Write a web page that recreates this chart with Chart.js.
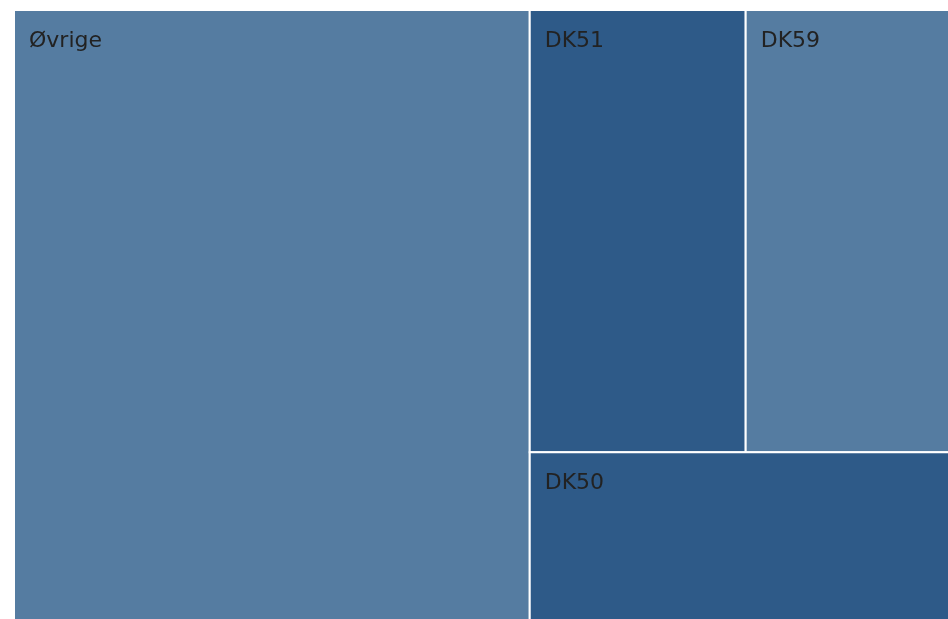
<!DOCTYPE html>
<html>
<head>
<meta charset="utf-8">
<title>Treemap</title>
<script src="https://cdn.jsdelivr.net/npm/chart.js@4/dist/chart.umd.min.js"></script>
<style>
  html, body { margin: 0; padding: 0; background: #fff; overflow: hidden; }
  #wrap { position: relative; width: 950px; height: 621px; }
</style>
</head>
<body>
<div id="wrap"><canvas id="treemap"></canvas></div>
<script>
// regions and their weights, largest first
const labels = ['Øvrige', 'DK51', 'DK59', 'DK50'];
const values = [55.1, 16.7, 15.8, 12.4];
const shades = ['#557ca1', '#2e5a88', '#557ca1', '#2e5a88'];

// squarified layout (golden ratio), same idea as d3.treemapSquarify
function squarify(vals, x0, y0, x1, y1) {
  const phi = (1 + Math.sqrt(5)) / 2;
  const out = [];
  let value = vals.reduce((a, b) => a + b, 0);
  let i0 = 0;
  const n = vals.length;
  while (i0 < n) {
    const dx = x1 - x0, dy = y1 - y0;
    let i1 = i0;
    let sum = vals[i1++];
    let minV = sum, maxV = sum;
    const alpha = Math.max(dy / dx, dx / dy) / (value * phi);
    let beta = sum * sum * alpha;
    let minRatio = Math.max(maxV / beta, beta / minV);
    for (; i1 < n; ++i1) {
      const v = vals[i1];
      sum += v;
      if (v < minV) minV = v;
      if (v > maxV) maxV = v;
      beta = sum * sum * alpha;
      const r = Math.max(maxV / beta, beta / minV);
      if (r > minRatio) { sum -= v; break; }
      minRatio = r;
    }
    if (dx < dy) {
      // row across the top
      const h = dy * sum / value;
      let cx = x0;
      for (let i = i0; i < i1; i++) {
        const w = dx * vals[i] / sum;
        out[i] = { x0: cx, y0: y0, x1: cx + w, y1: y0 + h };
        cx += w;
      }
      y0 += h;
    } else {
      // column down the left side
      const w = dx * sum / value;
      let cy = y0;
      for (let i = i0; i < i1; i++) {
        const h = dy * vals[i] / sum;
        out[i] = { x0: x0, y0: cy, x1: x0 + w, y1: cy + h };
        cy += h;
      }
      x0 += w;
    }
    value -= sum;
    i0 = i1;
  }
  return out;
}

const treemapCells = {
  id: 'treemapCells',
  afterDatasetsDraw(chart) {
    const { ctx, chartArea, scales } = chart;
    const W = chartArea.right - chartArea.left;
    const H = chartArea.bottom - chartArea.top;
    // lay out in pixel proportions, then map back to the 0..1 scales
    const cells = squarify(values, 0, 0, W, H).map(c => ({
      x0: scales.x.getPixelForValue(c.x0 / W),
      x1: scales.x.getPixelForValue(c.x1 / W),
      y0: scales.y.getPixelForValue(c.y0 / H),
      y1: scales.y.getPixelForValue(c.y1 / H)
    }));

    ctx.save();
    cells.forEach((c, i) => {
      ctx.fillStyle = shades[i];
      ctx.fillRect(c.x0, c.y0, c.x1 - c.x0, c.y1 - c.y0);
      ctx.strokeStyle = '#ffffff';
      ctx.lineWidth = 2;
      ctx.strokeRect(c.x0, c.y0, c.x1 - c.x0, c.y1 - c.y0);
    });
    ctx.fillStyle = '#222222';
    ctx.font = '22px "DejaVu Sans", Verdana, sans-serif';
    ctx.textAlign = 'left';
    ctx.textBaseline = 'alphabetic';
    cells.forEach((c, i) => {
      ctx.fillText(labels[i], c.x0 + 15, c.y0 + 37);
    });
    ctx.restore();
  }
};

new Chart(document.getElementById('treemap'), {
  type: 'scatter',
  data: { datasets: [{ data: [] }] },
  options: {
    responsive: true,
    maintainAspectRatio: false,
    animation: false,
    layout: { padding: { left: 14, top: 10, right: 0, bottom: 0 } },
    plugins: { legend: { display: false }, tooltip: { enabled: false } },
    scales: {
      x: { type: 'linear', min: 0, max: 1, display: false },
      y: { type: 'linear', min: 0, max: 1, reverse: true, display: false }
    }
  },
  plugins: [treemapCells]
});
</script>
</body>
</html>
